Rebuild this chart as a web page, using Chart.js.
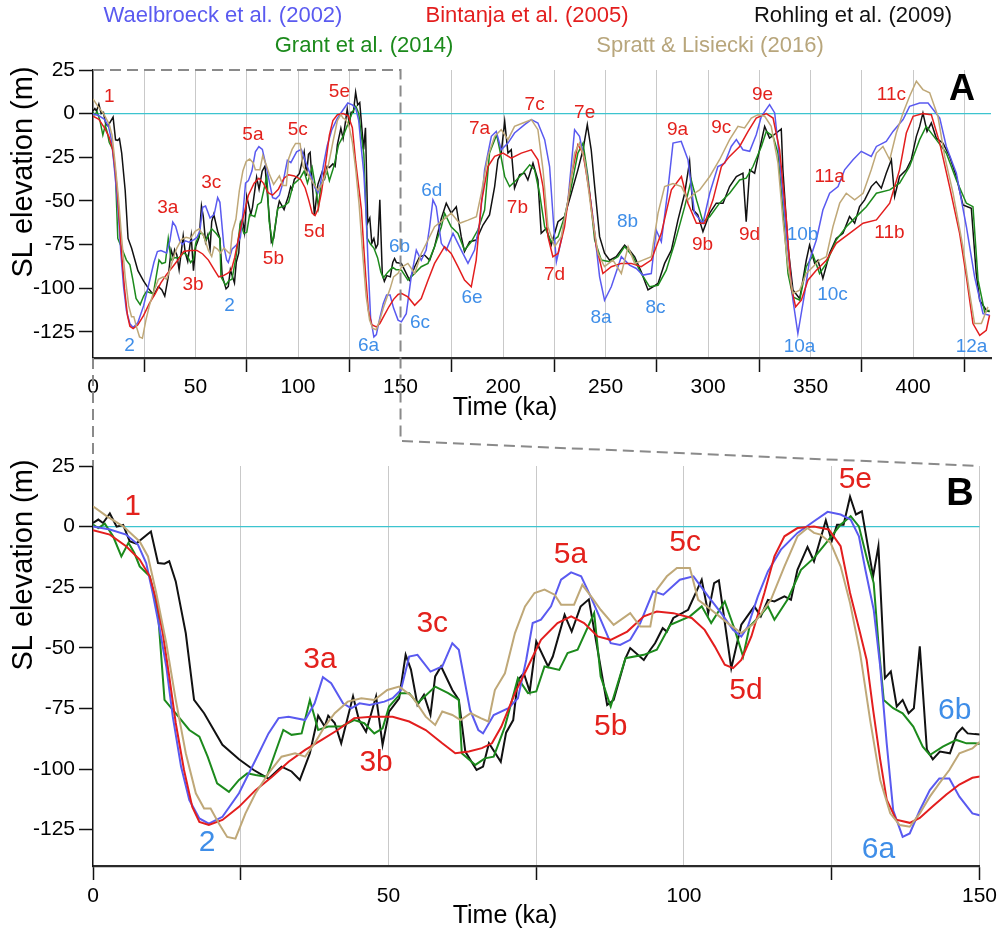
<!DOCTYPE html>
<html><head><meta charset="utf-8">
<script src="https://cdn.jsdelivr.net/npm/chart.js@4.4.1/dist/chart.umd.min.js"></script>
<style>
html,body{margin:0;padding:0;background:#fff;}
#wrap{position:relative;width:1001px;height:930px;overflow:hidden;}
canvas{position:absolute;left:0;top:0;}
</style></head><body>
<div id="wrap"><canvas id="cA" width="1001" height="930"></canvas><canvas id="cB" width="1001" height="930"></canvas></div>
<script>
// ---------- DATA (time in ka, sea level in m) ----------
const xTicksA = [0,25,50,75,100,125,150,175,200,225,250,275,300,325,350,375,400,425];
const xTicksB = [0,25,50,75,100,125,150];
const yTicks = [25,0,-25,-50,-75,-100,-125];

const waelT = [0,2.85,5.6,7.6,9,10.1,11.2,12.4,13.5,14.9,16.3,18,19.6,21.9,24.7,27.5,29.7,31.4,33.1,35.9,37.5,38.9,40.3,42.3,43.7,45.1,46.8,49.3,50.7,52.1,53.5,54.9,57.1,59.1,60.8,61.9,63.8,65.2,66,67.8,70.3,71.9,73.3,74.4,75.8,77.5,79.2,80.9,82.6,84.2,85.9,87.6,89.2,90.9,92.6,94.8,96.5,99.3,101.6,104.1,106.3,108.3,109.7,110.8,112.5,114.2,116.4,119.2,122,124.3,126.5,128.2,129.6,130.7,132.1,133.2,134.3,135.4,137,138.2,139.9,141.6,143.2,144.9,146.6,148.8,150.4,152.8,155.2,157.7,160.1,162.5,164.2,165.8,167.4,169.9,172.3,175.6,179.6,182.9,186.1,188.6,191,194.3,196.7,199.1,202.4,205.6,210.5,213.8,217,220.3,222.7,225.2,226,228.4,231.7,234.9,237.3,240.6,243.8,247.1,249.5,252.8,257.7,261.7,265,268.2,272.3,274.7,277.2,280.4,282.9,286.9,290.2,293.4,297.5,300.8,304.8,308.1,311.3,313.8,317,320.3,323.5,326,330,332.5,334.9,338.2,341.4,343.8,347.1,349.5,352.8,356,359.3,363.4,366.6,370.7,374.7,379.6,382.1,386.9,390.2,395.1,398.3,403.2,407.3,413,416.2,421.1,426,430,434.1,437.3];
const waelV = [0,-1.2,-3.3,-7.4,-15,-27.4,-41.2,-57.7,-78.4,-99,-112.8,-120.4,-122.5,-119.7,-110,-96.3,-85.3,-79,-78.4,-79.8,-72.9,-62.1,-64.6,-72.9,-75,-72.9,-73.6,-72.2,-70.8,-67.4,-53.6,-52.9,-59.8,-57.7,-48.1,-50.8,-75.6,-83.9,-85.3,-77.7,-74.9,-70.8,-55,-39.8,-38.4,-32.9,-21.9,-18.9,-20.5,-28.8,-38.4,-48.1,-48.8,-46.7,-39.8,-26.7,-28.1,-21.9,-20.5,-28.8,-35.7,-42.6,-45.3,-41.2,-28.8,-18.5,-9.5,-2.6,2.2,6.1,5,2.9,-4,-17.9,-34.3,-57.7,-89.4,-117,-128,-126.6,-117,-108.7,-103.9,-103.9,-111.4,-118.3,-119.3,-114.6,-93.5,-78.2,-84,-78.2,-64.8,-49.4,-53.3,-74.3,-78.2,-68.6,-78.2,-85.8,-78.2,-62.8,-32.2,-13,-10.2,-20.7,-16.9,-11.1,-6.3,-3.4,-5.4,-14.9,-30.3,-72.4,-84.9,-72.4,-49.4,-9.2,-13,-32.2,-59,-93.5,-106.9,-99.2,-82,-86.8,-88.7,-92.5,-91.6,-66.7,-73.4,-43.7,-16.9,-15.9,-26.4,-57,-62.8,-45.6,-30.3,-28.4,-18.8,-14.9,-20.7,-21.6,-12.1,-1.5,5.2,0.4,-26.4,-68.6,-106.9,-126,-103,-84,-72.4,-55.2,-45.6,-41.8,-32.2,-26.4,-21.6,-24.5,-18.8,-15.9,-10.2,-3.4,4.2,6.1,6.1,-2.5,-18.8,-34.1,-64.8,-93.5,-114.6,-115.5];

const bintT = [0,2.85,5.6,7.9,9.6,10.7,11.8,12.9,14,15.4,16.8,18,19.6,21.9,24.7,27.5,30.3,33.1,35.9,38.7,41.4,44.2,47.1,50.7,53.5,56.3,59.1,61.3,63.6,65.8,67.5,69.1,71.4,73.6,75.8,78.6,80.9,83.1,85.4,87.6,90.4,93.2,95.4,98.2,101.3,103.5,105.2,106.9,108.3,109.7,111.4,113.6,115.3,117,119.2,122,124.5,126.5,128.1,129.8,130.9,132,133.2,134.3,135.9,138.2,139.9,142.1,144.4,146.6,148.8,150.4,153.6,156.9,160.1,163.4,166.6,171.5,174.7,178,181.2,184.5,186.9,189.4,192.6,195.9,200,204,208.9,213.8,217,219.5,221.9,224.3,226.8,230,233.3,236.5,239,242.2,245.5,248.7,252.8,257.7,262.5,267.4,272.3,277.2,282.1,287,290.2,294.3,298.3,302.4,306.5,310.5,315.4,319.5,323.5,328.4,331.7,334.9,338.2,340.6,342.7,345.5,348.7,352.8,357.7,362.5,369,375.6,382.1,388.6,393.4,396.7,400,404.8,408.9,413,417.8,422.7,426,429.2,432.5,435.7,437.3];
const bintV = [-1.5,-3.3,-8.1,-13.6,-20.5,-30.2,-43.9,-61.8,-81,-100.4,-115.6,-121.8,-123.1,-121,-115.6,-108.7,-103.2,-97,-92.1,-88,-83.9,-79,-78.4,-78.4,-80.4,-83.9,-89.4,-93.5,-92.8,-91.4,-89.4,-82.5,-68.7,-57.7,-46.7,-39.8,-37,-39.8,-45.3,-46.7,-43.3,-37,-35,-35.7,-37.7,-42.6,-49.4,-57,-58.4,-55,-45.3,-27.4,-12.3,-4,-0.6,0,-1.2,-8.1,-27.4,-43.9,-54.9,-75.5,-96.1,-112.6,-120.9,-122.2,-120.2,-115.4,-110.5,-106.4,-103.6,-103,-105,-109.8,-105.9,-95.4,-85.8,-76.2,-80.1,-87.7,-95.4,-99.2,-83.9,-51.3,-30.3,-24.5,-22.6,-25.5,-22.6,-20.7,-26.4,-41.8,-70.5,-82,-80.1,-64.8,-36,-17.8,-22.6,-45.6,-76.2,-91.6,-87.7,-85.8,-85.8,-87.7,-83.9,-68.6,-43.7,-36,-51.3,-62.8,-62.8,-49.4,-30.3,-24.5,-18.8,-10.2,-2.5,0,-2.5,-20.7,-60.9,-99.2,-110.7,-106.9,-95.4,-89.7,-84,-74.3,-68.6,-62.8,-60.9,-51.3,-32.2,-11.1,-1.5,0,-0.6,-16.9,-41.8,-68.6,-93.5,-120.3,-127,-124.1,-115.5];

const rohT = [0,0.9,1.7,2.85,4,5.1,6.2,7.3,9.8,11,12.1,12.9,14,15.7,17.1,18.8,21.9,24.7,27.2,29.7,31.9,33.6,35,36.7,38.1,39.2,39.8,40.9,42,44,45,46.2,47.9,49,50.1,51.8,52.9,53.8,54.9,56,57.1,57.9,58.9,60.8,61.9,63,64.9,66,67,69,69.9,71.1,71.9,72.9,73.9,75,77,77.8,79.8,81,82.5,83.9,87,88.1,90.1,90.9,93.2,94.3,95.1,96.4,97.1,98.2,100.7,103,104.1,105.1,105.9,108,109.7,111.9,113,114.2,115.3,117,118.1,119.2,120.9,122,124,125,125.9,127,128.1,129.1,130.1,132,132.9,134,135,136,137,138,138.9,139.9,141.1,142.1,143.3,145,146.2,147.1,148,149.2,150.4,154.4,156.9,159.3,161.7,164.2,166.6,169.9,172.3,174.7,177.2,179.6,181.2,183.7,186.9,190.2,193.4,195.9,197.5,199.1,200.8,202.4,204,205.6,208.1,210.5,212.1,214.6,217,218.6,221.1,223.5,226.8,230,233.3,236.5,239,241.1,243,244.7,247.1,249.5,252,255.2,259.3,261.7,264.2,267.4,270.7,273.1,275.6,278.8,282.1,285.3,288.6,291,292.6,295,297.5,300.8,304,307.3,310.5,313.8,317,318.6,320.3,322.7,325.1,327.6,330,333.3,335.7,336.5,339,341.4,344.7,347.9,349.5,352,353.6,356,359.3,362.5,365.8,369,371.5,373.9,376.4,379.6,382,384.5,386.9,389.4,391,393.4,396.7,399.1,401.6,403.2,404.8,406.8,408.9,411.3,414.6,417.8,421.1,424.3,428.4,430.8,432.5,435.7,437.3];
const rohV = [1.5,2.9,1.5,5.4,0,0.7,-6,-7,-2,-15,-15.3,-14.3,-22.6,-44,-71.5,-77,-90,-96,-100.4,-104,-99,-101,-104.5,-93.5,-78,-82.5,-78,-81,-89.4,-70,-79.7,-84.6,-70,-90,-76.3,-70.8,-52.9,-59,-73.5,-69.4,-77.7,-61.8,-57.7,-67.4,-71.5,-92.8,-100.4,-99,-89.4,-97,-85,-79.8,-63.2,-60.5,-68,-47.4,-57.7,-53.6,-36.4,-43.3,-33,-30,-73.6,-71.5,-54.3,-50.1,-55,-50.8,-48.1,-41.9,-43.3,-37.7,-34.3,-21.9,-35.7,-23.3,-22.2,-58.4,-40.5,-32.9,-37,-30.2,-30.9,-28.8,-30.2,-17.8,-8.4,-14.3,2.6,-6,0.8,0.8,12.3,5,6.3,-20.5,-8.1,-62.5,-59.8,-74.2,-71.5,-77,-74.9,-49.4,-92,-96,-92.8,-93.5,-85.3,-83,-85.3,-85.6,-85.8,-95.4,-87.7,-82,-81,-84,-76.2,-60,-51.3,-57,-53.3,-70.5,-79,-73.4,-72.4,-63.8,-58,-41.8,-26.4,-22.6,-4.4,-22.6,-20.7,-42.7,-35,-34.1,-38,-28.4,-38,-68.6,-65.7,-75.3,-61.9,-59,-45.6,-32.2,-20.7,-6.3,-20.7,-41.8,-70.5,-80,-84,-82,-75.3,-78.2,-82,-90.6,-101,-99.2,-97.3,-85.8,-78.2,-61,-45.6,-27.4,-55,-58,-67.6,-57,-51.3,-51.3,-41.8,-36,-34.1,-61.9,-32.2,-34.1,-20.7,-7.3,-14,-11.1,-8.8,-32.2,-76.2,-101,-106,-84,-75.3,-85.8,-84,-94.4,-80,-71.5,-68.6,-59,-62.8,-53.3,-49.4,-41.8,-38.9,-42.7,-34.1,-26.4,-47.5,-36,-32.2,-26.4,-13,-7.3,0.4,-10.2,-5.4,-14,-16.9,-24.5,-36,-52.3,-54.2,-91.6,-107,-112.6,-113.6];

const grantT = [0,0.9,2,3.4,4.8,6,7,7.9,9.6,11,12.1,14,16.3,18,19.4,21,23,24.7,26.1,27.5,29.4,30.8,32.2,33.6,35.3,36.7,38.1,39.8,42,44.2,45.9,47.6,49,50.1,52.1,53.5,54.9,57.9,60.1,61.9,62.4,64.7,66.3,67.8,69.7,71.9,73.6,75,76.4,78.9,80.3,82,84.8,85.9,87.6,90.1,93.2,95.4,97.7,101,103,104.6,106.9,108.6,110,111.1,113,114.2,115.3,117.5,119.8,122,124.3,126.5,128.2,129.6,131,132.1,132.9,133.8,135.4,137,138.8,140.4,141.6,143.8,146.1,147.8,149.2,150.4,153.6,156.9,160.1,163.4,166.6,169.9,171.5,174.7,178,181.2,184.5,187.7,191,193.4,196.9,198.4,200.8,203.2,206.5,209.7,213,215.4,217.8,220.3,223.5,226.8,230,233.3,236.5,239,241.4,244.7,247.9,252,256,259.3,263.4,267.4,271.5,275.6,279.6,283.7,288.6,291.8,294.5,297.5,300.8,305.6,310.5,315.4,318.6,321.9,326,328.4,331.7,334.1,336.5,339,341.4,344.7,347.9,351.2,354.4,357.7,362.5,367.4,372.3,377.2,382.1,388.6,393.4,398.3,403.2,406.4,411.3,416.2,421.1,426,429.2,431.7,434.9,437.3];
const grantV = [0.8,-0.6,1.2,-4,-12.3,-6.7,-10.9,-16.4,-20.5,-35.7,-71.5,-77,-83.9,-86.6,-94.9,-105.9,-109.4,-104.5,-101.8,-102.5,-103.2,-93.5,-83.9,-85.9,-85.3,-71.5,-83.9,-82.5,-82.5,-79.8,-81.1,-85.3,-83.2,-74.2,-68.7,-68.7,-72.9,-66,-68.7,-71.5,-93.5,-98.3,-95.6,-94.9,-82.5,-62.5,-68.7,-68,-57.7,-59.1,-52.2,-50.8,-35.7,-61.8,-74.2,-54.3,-52.9,-50.8,-40.5,-37,-32.9,-39.8,-30.9,-42.6,-53.6,-41.2,-36.4,-32.9,-38.4,-30.2,-17.8,-12.9,-6,0.8,4.3,0.1,-13.6,-23.3,-48.1,-71.5,-74.9,-77,-82.5,-90.8,-94.2,-90.8,-88,-89.4,-89.4,-89.7,-95.4,-91.6,-87.7,-85.8,-76.2,-64.8,-57,-64.8,-68.6,-78.2,-73.4,-66.7,-55.2,-22.6,-12.1,-20.7,-36,-41.8,-38,-34.1,-29.3,-32.2,-45.6,-64.8,-73.4,-70.5,-59,-41.8,-22.6,-16.9,-36,-72.4,-83.9,-84.9,-82,-76.2,-82,-91.6,-99.2,-98.3,-89.7,-74.3,-53.3,-38,-50,-62,-59,-51.3,-45.6,-38,-37,-30.3,-18.8,-10.2,-13,-22.6,-55.2,-91.6,-105,-106.9,-87.7,-81,-91.6,-85.8,-72.4,-64.8,-59,-53.3,-45.6,-43.7,-39.8,-30.3,-14.9,-7.3,-14.9,-22.6,-38,-51.3,-53.3,-95.4,-113.6,-112.6];

const sprattT = [0,2.3,5.1,7.9,9.3,10.7,12.4,14,15.7,17.4,18.8,19.9,21.3,22.7,24.1,25.8,27.5,29.7,31.9,34.2,35.9,37.5,39.2,40.9,43.1,45.4,47.6,49.8,51.8,54,56.3,57.9,59.1,60.8,62.2,63.9,65.6,66.9,68,69.7,71.4,73.1,74.7,76.4,78.1,79.2,81.4,82.8,84.5,85.9,88.1,90.9,92.6,94.3,95.4,97.1,98.8,101,102.4,104.6,107.4,109.7,111.9,114.7,117,119.2,120.9,122,123.1,124.8,126.5,128.1,129.8,131.5,133.2,134.9,136.5,138.2,139.9,141.6,143.2,144.9,146.6,148.8,150.4,153.6,156.9,160.1,163.4,166.6,170.7,174.7,178.8,182.9,187,189.4,192.6,195.9,199.1,202.4,205.6,209.7,213.8,217,219.5,221.9,225.2,228.4,231.7,234.9,237.3,239.8,243,246.3,249.5,253.6,257.7,261,264.2,268.2,272.3,275.6,278.8,282.9,287,290.2,293.4,295.9,300.8,305.6,310.5,314.6,317.8,321.1,324.3,327.6,330.8,334.1,336.5,339,341.4,344.7,347.9,351.2,354.4,357.7,360.9,364.2,367.4,371.5,375.6,379.6,382.1,385.3,388.6,391.8,395.1,398.3,401.6,404.8,408.1,412.1,415.4,419.5,424.3,427.6,430,433.3,436.5];
const sprattV = [8.4,4.3,0.1,-6.1,-12.3,-27.4,-48.1,-71.5,-93.5,-110,-116.3,-116.3,-122.5,-128,-128.7,-118.3,-110,-101.8,-94.9,-93.5,-94.9,-89.4,-82.5,-77,-72.2,-70.8,-71.5,-67.4,-66,-70.1,-78.4,-81.8,-76.3,-77.7,-79.8,-77,-79,-80.4,-67.4,-60.5,-43.9,-32.9,-27.4,-26,-28.1,-32.2,-32.2,-24,-29.5,-34.3,-40.5,-35.7,-41.2,-41.2,-26,-20.5,-17.1,-17.1,-30.2,-34.3,-39.8,-43.9,-39.8,-30.2,-16.4,-4,-0.6,-2.6,-3.3,-6.7,-16.4,-31.5,-52.2,-79.8,-104.5,-118.3,-123.1,-123.8,-118.3,-111.4,-105.9,-100.4,-93.5,-91.5,-88,-85.8,-91.6,-80.1,-72.4,-64.8,-61,-57,-62.8,-61,-59,-45.6,-24.5,-13,-9.2,-14.9,-7.3,-5.4,-3.4,-9.2,-32.2,-64.8,-76.2,-70.5,-49.4,-22.6,-16.9,-26.4,-55.2,-80.1,-87.7,-83.9,-91.6,-76.2,-85.8,-83.9,-82,-57,-41.8,-40,-41.8,-49.4,-45.6,-43.7,-36,-26.4,-14.9,-7.3,-8.2,-2.5,-0.6,-1.5,-7.3,-28.4,-60.9,-87.7,-103,-101.1,-91.6,-87.7,-83.9,-82,-64.8,-51.3,-45.6,-49.4,-45.6,-32.2,-22.6,-18.8,-26.4,-11.1,0.4,10,18.6,13.8,11.9,-1.5,-24.5,-45.6,-76.2,-103,-120.3,-120.3,-110.7];

// substage annotations: [text, time, level, colour key]
const labelsA = [['1',8,9.9,'r'],['2',17.8,-132.8,'b'],['3a',36.5,-54.2,'r'],['3b',48.8,-98.3,'r'],['3c',57.7,-39.8,'r'],['2',66.6,-109.8,'b'],['5a',78,-12,'r'],['5b',88,-83.3,'r'],['5c',99.9,-9.2,'r'],['5d',108,-67.6,'r'],['5e',120.2,12.8,'r'],['6a',134.4,-132.8,'b'],['6b',149.5,-76.4,'b'],['6c',159.5,-119.8,'b'],['6d',165.2,-44.3,'b'],['6e',184.9,-105.7,'b'],['7a',188.5,-8.9,'r'],['7b',207,-54,'r'],['7c',215.4,5.2,'r'],['7d',225.1,-92.5,'r'],['7e',239.8,0.6,'r'],['8a',247.8,-116.7,'b'],['8b',260.7,-62,'b'],['8c',274.4,-111,'b'],['9a',285.1,-9.2,'r'],['9b',297.3,-75.3,'r'],['9c',306.4,-8.2,'r'],['9d',320.2,-69.5,'r'],['9e',326.6,10.9,'r'],['10a',344.6,-133.7,'b'],['10b',346.1,-69.5,'b'],['10c',360.7,-104,'b'],['11a',359.3,-36,'r'],['11b',388.5,-68.4,'r'],['11c',389.4,10.9,'r'],['12a',428.5,-133.3,'b']];
const labelsB = [['1',6.7,8.4,'r'],['2',19.3,-130.5,'b'],['3a',38.4,-55,'r'],['3b',47.9,-97.5,'r'],['3c',57.4,-40,'r'],['5a',80.8,-11.6,'r'],['5b',87.6,-82.5,'r'],['5c',100.2,-6.7,'r'],['5d',110.5,-67.9,'r'],['5e',129,19.4,'r'],['6a',132.9,-133.3,'b'],['6b',145.8,-76,'b']];

const seriesNames = ['Waelbroeck et al. (2002)','Bintanja et al. (2005)','Rohling et al. (2009)','Grant et al. (2014)','Spratt & Lisiecki (2016)'];

// ---------- STYLE ----------
const FONT = "'Liberation Sans', Arial, Helvetica, sans-serif";
const C = {wael:'#5a5af0', bint:'#e31e1e', roh:'#111111', grant:'#1c8a1c', spratt:'#bfa878'};
const TXT = {r:'#e3211c', b:'#3f8ee8'};
const LEG = ['#5a5af0','#e31e1e','#111111','#1c8a1c','#b8a67c'];

function pts(T,V){return T.map((t,i)=>({x:t,y:V[i]}));}
function makeDatasets(w){
  return [
    {data:pts(sprattT,sprattV), borderColor:C.spratt},
    {data:pts(bintT,bintV), borderColor:C.bint},
    {data:pts(waelT,waelV), borderColor:C.wael},
    {data:pts(grantT,grantV), borderColor:C.grant},
    {data:pts(rohT,rohV), borderColor:C.roh}
  ].map(d=>Object.assign(d,{borderWidth:w,pointRadius:0,tension:0,fill:false}));
}

const zeroLine = {id:'zeroLine', beforeDatasetsDraw(ch){
  const a=ch.chartArea, y=ch.scales.y.getPixelForValue(0), c=ch.ctx;
  c.save(); c.strokeStyle='#3cc4cf'; c.lineWidth=1.4; c.beginPath(); c.moveTo(a.left,y); c.lineTo(a.right,y); c.stroke(); c.restore();
}};
function labelPlugin(list,size){
  return {id:'subLabels', afterDatasetsDraw(ch){
    const c=ch.ctx; c.save(); c.font=size+'px '+FONT; c.textAlign='center'; c.textBaseline='middle';
    list.forEach(l=>{c.fillStyle=TXT[l[3]]; c.fillText(l[0], ch.scales.x.getPixelForValue(l[1]), ch.scales.y.getPixelForValue(l[2]));});
    c.restore();
  }};
}

function xScale(max,ticks,height,pad,dashed150){
  return {type:'linear',min:0,max:max,
    afterBuildTicks:s=>{s.ticks=ticks.map(v=>({value:v}));},
    afterFit:s=>{s.height=height;},
    ticks:{autoSkip:false,maxRotation:0,minRotation:0,padding:pad,color:'#000',font:{family:FONT,size:21},
      callback:v=>(v%50===0?String(v):'')},
    grid:{drawOnChartArea:true,lineWidth:1,tickLength:14,tickWidth:1.5,
      color:ctx=>{const v=ctx.tick?ctx.tick.value:null; if(v===0||(dashed150&&v===150))return 'rgba(0,0,0,0)'; return '#c9c9c9';},
      tickColor:ctx=>{const v=ctx.tick?ctx.tick.value:null; if(v===null)return 'rgba(0,0,0,0)';
        if(v%50!==0)return '#111'; if(!dashed150&&(v===0||v===max))return '#111'; return 'rgba(0,0,0,0)';}},
    border:{color:'#2a2a2a',width:2.2}};
}
function yScale(){
  return {type:'linear',min:-140,max:25,
    afterBuildTicks:s=>{s.ticks=yTicks.map(v=>({value:v}));},
    afterFit:s=>{s.width=93;},
    ticks:{padding:4,color:'#000',font:{family:FONT,size:21},callback:v=>String(v)},
    grid:{drawOnChartArea:false,tickLength:14,tickColor:'#111',tickWidth:1.5},
    border:{color:'#111',width:1.5}};
}

// ---------- PANEL A ----------
const textA = {id:'textA', afterDraw(ch){
  const c=ch.ctx; c.save();
  c.font='22px '+FONT; c.textAlign='center'; c.textBaseline='middle';
  const pos=[[223,16],[527,16],[853,16],[364,46],[710,46]];
  seriesNames.forEach((n,i)=>{c.fillStyle=LEG[i]; c.fillText(n,pos[i][0],pos[i][1]);});
  c.fillStyle='#000';
  c.font='25px '+FONT; c.fillText('Time (ka)',505,408);
  c.font='bold 36px '+FONT; c.fillText('A',962,90);
  c.translate(24,172); c.rotate(-Math.PI/2); c.font='29px '+FONT; c.fillText('SL elevation (m)',0,0);
  c.restore();
}};
const chartA = new Chart(document.getElementById('cA'),{
  type:'line',
  data:{datasets:makeDatasets(1.5)},
  options:{responsive:false,animation:false,events:[],parsing:false,normalized:true,
    layout:{padding:{top:70,right:10,left:0,bottom:930-358-62}},
    plugins:{legend:{display:false},tooltip:{enabled:false}},
    scales:{x:xScale(438,xTicksA,62,3,true),y:yScale()}},
  plugins:[zeroLine,labelPlugin(labelsA,19),textA]
});

// ---------- PANEL B ----------
const textB = {id:'textB', afterDraw(ch){
  const c=ch.ctx, a=chartA.chartArea, xa=chartA.scales.x, b=ch.chartArea;
  const x0=xa.getPixelForValue(0), x150=xa.getPixelForValue(150);
  c.save();
  c.strokeStyle='#8a8a8a'; c.lineWidth=2; c.setLineDash([11,6]);
  c.beginPath(); c.moveTo(x0,a.top); c.lineTo(x150,a.top); c.lineTo(x150,441); c.lineTo(b.right,b.top); c.stroke();
  c.beginPath(); c.moveTo(x0,a.bottom); c.lineTo(b.left,b.top); c.stroke();
  c.setLineDash([]);
  c.fillStyle='#000'; c.textAlign='center'; c.textBaseline='middle';
  c.font='25px '+FONT; c.fillText('Time (ka)',505,916);
  c.font='bold 38px '+FONT; c.fillText('B',960,495);
  c.translate(24,565); c.rotate(-Math.PI/2); c.font='29px '+FONT; c.fillText('SL elevation (m)',0,0);
  c.restore();
}};
new Chart(document.getElementById('cB'),{
  type:'line',
  data:{datasets:makeDatasets(2)},
  options:{responsive:false,animation:false,events:[],parsing:false,normalized:true,
    layout:{padding:{top:466,right:14,left:0,bottom:0}},
    plugins:{legend:{display:false},tooltip:{enabled:false}},
    scales:{x:xScale(150,xTicksB,64,4,false),y:yScale()}},
  plugins:[zeroLine,labelPlugin(labelsB,30),textB]
});
</script></body></html>
